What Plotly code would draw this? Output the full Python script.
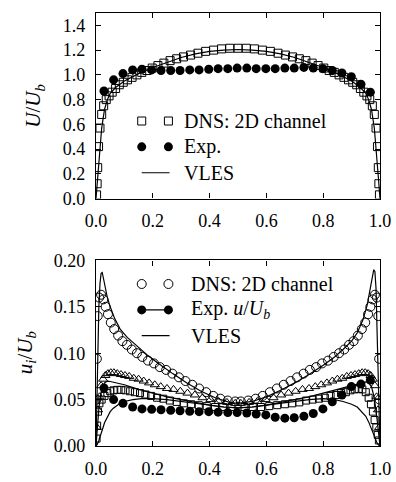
import plotly.graph_objects as go

# ---------------- top panel: mean velocity U/U_b ----------------
dns_x_top = [0.002, 0.004, 0.006, 0.009, 0.014, 0.02, 0.027, 0.036, 0.046, 0.057,
             0.069, 0.082, 0.096, 0.111, 0.127, 0.144, 0.161, 0.179, 0.198, 0.218,
             0.239, 0.261, 0.284, 0.308, 0.333, 0.359, 0.386, 0.414, 0.442, 0.471,
             0.5, 0.529, 0.558, 0.586, 0.614, 0.641, 0.667, 0.692, 0.716, 0.739,
             0.761, 0.782, 0.802, 0.821, 0.839, 0.856, 0.873, 0.889, 0.904, 0.918,
             0.931, 0.943, 0.954, 0.964, 0.973, 0.98, 0.986, 0.991, 0.994, 0.996, 0.998]
dns_u_top = [0.03, 0.12, 0.25, 0.42, 0.57, 0.68, 0.75, 0.80, 0.83, 0.86,
             0.89, 0.92, 0.94, 0.96, 0.98, 1.0, 1.02, 1.035, 1.055, 1.075,
             1.095, 1.115, 1.13, 1.145, 1.16, 1.175, 1.19, 1.2, 1.21, 1.215,
             1.215, 1.215, 1.21, 1.2, 1.19, 1.175, 1.16, 1.145, 1.13, 1.115,
             1.095, 1.075, 1.055, 1.035, 1.02, 1.0, 0.98, 0.96, 0.94, 0.92,
             0.89, 0.86, 0.83, 0.80, 0.75, 0.68, 0.57, 0.42, 0.25, 0.12, 0.03]

exp_x = [0.028, 0.062, 0.095, 0.129, 0.162, 0.196, 0.229, 0.263, 0.296, 0.330,
         0.363, 0.397, 0.430, 0.464, 0.497, 0.531, 0.564, 0.598, 0.631, 0.665,
         0.698, 0.732, 0.765, 0.799, 0.832, 0.866, 0.899, 0.933, 0.966]
exp_u_top = [0.87, 0.96, 1.01, 1.04, 1.045, 1.04, 1.035, 1.035, 1.035, 1.04,
             1.04, 1.045, 1.05, 1.05, 1.055, 1.055, 1.05, 1.05, 1.05, 1.055,
             1.055, 1.06, 1.055, 1.05, 1.035, 1.015, 0.985, 0.925, 0.86]

vles_x_top = [0, 0.005, 0.01, 0.015, 0.02, 0.03, 0.04, 0.05, 0.07, 0.1, 0.15, 0.2,
              0.25, 0.3, 0.35, 0.4, 0.45, 0.5, 0.55, 0.6, 0.65, 0.7, 0.75, 0.8,
              0.85, 0.9, 0.93, 0.95, 0.96, 0.97, 0.98, 0.985, 0.99, 0.995, 1.0]
vles_u_top = [0, 0.15, 0.3, 0.45, 0.57, 0.72, 0.8, 0.85, 0.9, 0.95, 1.01, 1.06,
              1.1, 1.14, 1.17, 1.19, 1.2, 1.205, 1.2, 1.19, 1.17, 1.14, 1.1, 1.06,
              1.01, 0.95, 0.9, 0.85, 0.8, 0.72, 0.57, 0.45, 0.3, 0.15, 0]

# ---------------- bottom panel: fluctuations u_i/U_b ----------------
dns_x_uu = [0.0015, 0.003, 0.006, 0.011, 0.018, 0.026, 0.034, 0.042, 0.052, 0.064,
            0.078, 0.093, 0.109, 0.126, 0.144, 0.163, 0.183, 0.204, 0.225, 0.247,
            0.269, 0.292, 0.315, 0.339, 0.363, 0.388, 0.413, 0.438, 0.464, 0.49,
            0.51, 0.536, 0.562, 0.587, 0.612, 0.637, 0.661, 0.685, 0.708, 0.731,
            0.753, 0.775, 0.796, 0.817, 0.837, 0.856, 0.874, 0.891, 0.907, 0.922,
            0.936, 0.948, 0.958, 0.966, 0.974, 0.982, 0.989, 0.994, 0.997, 0.9985]
dns_uu = [0.05, 0.094, 0.14, 0.16, 0.163, 0.158, 0.15, 0.142, 0.133, 0.126,
          0.119, 0.113, 0.109, 0.104, 0.1, 0.096, 0.092, 0.089, 0.085, 0.082,
          0.078, 0.074, 0.07, 0.066, 0.062, 0.058, 0.054, 0.051, 0.049, 0.048,
          0.048, 0.049, 0.051, 0.054, 0.058, 0.062, 0.066, 0.07, 0.074, 0.078,
          0.082, 0.085, 0.089, 0.092, 0.096, 0.1, 0.104, 0.109, 0.113, 0.119,
          0.126, 0.133, 0.142, 0.15, 0.158, 0.163, 0.16, 0.14, 0.094, 0.05]

dns_x_vv = [0.003, 0.007, 0.012, 0.018, 0.025, 0.033, 0.042, 0.052, 0.063, 0.075,
            0.088, 0.102, 0.117, 0.133, 0.15, 0.168, 0.187, 0.207, 0.228, 0.25,
            0.273, 0.297, 0.322, 0.348, 0.375, 0.403, 0.432, 0.461, 0.49,
            0.51, 0.539, 0.568, 0.597, 0.625, 0.652, 0.678, 0.703, 0.727, 0.75,
            0.772, 0.793, 0.813, 0.832, 0.85, 0.867, 0.883, 0.898, 0.912, 0.925,
            0.937, 0.948, 0.958, 0.967, 0.975, 0.982, 0.988, 0.993, 0.997]
dns_vv = [0.02, 0.039, 0.053, 0.065, 0.072, 0.076, 0.078, 0.079, 0.079, 0.078,
          0.077, 0.076, 0.075, 0.073, 0.072, 0.07, 0.068, 0.066, 0.064, 0.062,
          0.061, 0.059, 0.057, 0.055, 0.052, 0.05, 0.048, 0.047, 0.046,
          0.046, 0.047, 0.048, 0.05, 0.052, 0.055, 0.057, 0.059, 0.061, 0.062,
          0.064, 0.066, 0.068, 0.07, 0.072, 0.073, 0.075, 0.076, 0.077, 0.078,
          0.079, 0.079, 0.078, 0.076, 0.072, 0.065, 0.053, 0.039, 0.02]

dns_x_ww = [0.002, 0.004, 0.007, 0.012, 0.02, 0.03, 0.04, 0.05, 0.062, 0.075,
            0.089, 0.104, 0.12, 0.137, 0.155, 0.174, 0.194, 0.215, 0.237, 0.26,
            0.284, 0.309, 0.335, 0.362, 0.39, 0.419, 0.448, 0.477,
            0.523, 0.552, 0.581, 0.61, 0.638, 0.665, 0.691, 0.716, 0.74, 0.763,
            0.785, 0.806, 0.826, 0.845, 0.863, 0.88, 0.896, 0.911, 0.925, 0.938,
            0.95, 0.96, 0.968, 0.975, 0.981, 0.987, 0.992, 0.996]
dns_ww = [0.008, 0.022, 0.037, 0.046, 0.05, 0.054, 0.057, 0.059, 0.06, 0.0605,
          0.0605, 0.06, 0.059, 0.058, 0.057, 0.0555, 0.054, 0.052, 0.051, 0.049,
          0.0475, 0.046, 0.045, 0.044, 0.043, 0.042, 0.042, 0.042,
          0.042, 0.042, 0.042, 0.043, 0.044, 0.045, 0.046, 0.047, 0.049, 0.05,
          0.051, 0.052, 0.054, 0.055, 0.057, 0.058, 0.06, 0.061, 0.0615, 0.061,
          0.058, 0.052, 0.045, 0.037, 0.028, 0.02, 0.012, 0.006]

exp_uu = [0.0625, 0.05, 0.046, 0.042, 0.040, 0.0395, 0.039, 0.0385, 0.038, 0.0375,
          0.037, 0.037, 0.0365, 0.036, 0.036, 0.0355, 0.0345, 0.0335, 0.031, 0.030,
          0.0305, 0.032, 0.035, 0.040, 0.0477, 0.055, 0.064, 0.0667, 0.071]

vles_x_uu = [0, 0.003, 0.006, 0.01, 0.014, 0.018, 0.022, 0.027, 0.033, 0.04, 0.05,
             0.065, 0.085, 0.11, 0.14, 0.18, 0.22, 0.27, 0.32, 0.37, 0.42, 0.47, 0.5,
             0.55, 0.6, 0.65, 0.7, 0.75, 0.8, 0.84, 0.87, 0.9, 0.92, 0.94, 0.955,
             0.965, 0.972, 0.978, 0.982, 0.986, 0.99, 0.995, 1.0]
vles_uu = [0, 0.05, 0.1, 0.15, 0.175, 0.186, 0.187, 0.18, 0.17, 0.16, 0.15,
           0.138, 0.126, 0.117, 0.109, 0.098, 0.089, 0.078, 0.068, 0.059, 0.052, 0.047, 0.046,
           0.048, 0.053, 0.06, 0.068, 0.077, 0.087, 0.096, 0.104, 0.113, 0.122, 0.136, 0.152,
           0.168, 0.18, 0.19, 0.188, 0.17, 0.12, 0.05, 0]

vles_x_vv = [0, 0.005, 0.01, 0.015, 0.02, 0.03, 0.04, 0.05, 0.07, 0.1, 0.15, 0.2,
             0.25, 0.3, 0.35, 0.4, 0.45, 0.5, 0.55, 0.6, 0.65, 0.7, 0.75, 0.8, 0.85,
             0.9, 0.93, 0.95, 0.96, 0.97, 0.98, 0.985, 0.99, 0.995, 1.0]
vles_vv = [0, 0.022, 0.04, 0.053, 0.061, 0.068, 0.07, 0.0695, 0.068, 0.066, 0.061, 0.057,
           0.053, 0.05, 0.047, 0.044, 0.042, 0.041, 0.042, 0.044, 0.047, 0.05, 0.053, 0.057, 0.061,
           0.065, 0.068, 0.069, 0.068, 0.064, 0.052, 0.042, 0.028, 0.014, 0]

vles_x_ww = [0, 0.005, 0.01, 0.015, 0.02, 0.026, 0.03, 0.04, 0.05, 0.06, 0.08, 0.1,
             0.13, 0.16, 0.2, 0.25, 0.3, 0.35, 0.4, 0.45, 0.5, 0.55, 0.6, 0.65, 0.7,
             0.75, 0.8, 0.84, 0.87, 0.9, 0.92, 0.94, 0.95, 0.96, 0.97, 0.975, 0.98,
             0.985, 0.99, 0.995, 1.0]
vles_ww = [0, 0.002, 0.006, 0.01, 0.015, 0.021, 0.025, 0.032, 0.037, 0.0405, 0.045, 0.048,
           0.05, 0.051, 0.051, 0.05, 0.048, 0.046, 0.044, 0.042, 0.041, 0.042, 0.044, 0.046, 0.048,
           0.05, 0.051, 0.05, 0.048, 0.045, 0.042, 0.036, 0.032, 0.026, 0.018, 0.014, 0.01,
           0.006, 0.003, 0.001, 0]

x_ticks = [0.0, 0.2, 0.4, 0.6, 0.8, 1.0]
y_ticks_top = [0.0, 0.2, 0.4, 0.6, 0.8, 1.0, 1.2, 1.4]
y_ticks_bot = [0.00, 0.05, 0.10, 0.15, 0.20]

# ---------------- styling ----------------
FONT = "Liberation Serif, DejaVu Serif, serif"
BLACK = "black"
MS = 8

def open_marker(symbol, size=MS):
    return dict(symbol=symbol, size=size, color="rgba(0,0,0,0)",
                line=dict(color=BLACK, width=1))

fig = go.Figure()

# top panel traces
fig.add_trace(go.Scatter(x=dns_x_top, y=dns_u_top, mode="markers",
                         marker=open_marker("square"), xaxis="x", yaxis="y"))
fig.add_trace(go.Scatter(x=exp_x, y=exp_u_top, mode="markers",
                         marker=dict(symbol="circle", size=9, color=BLACK),
                         xaxis="x", yaxis="y"))
fig.add_trace(go.Scatter(x=vles_x_top, y=vles_u_top, mode="lines",
                         line=dict(color=BLACK, width=1.2), xaxis="x", yaxis="y"))

# bottom panel traces
fig.add_trace(go.Scatter(x=dns_x_vv, y=dns_vv, mode="markers",
                         marker=open_marker("triangle-up"), xaxis="x2", yaxis="y2"))
fig.add_trace(go.Scatter(x=dns_x_ww, y=dns_ww, mode="markers",
                         marker=open_marker("square", 7), xaxis="x2", yaxis="y2"))
fig.add_trace(go.Scatter(x=dns_x_uu, y=dns_uu, mode="markers",
                         marker=open_marker("circle", 9), xaxis="x2", yaxis="y2"))
fig.add_trace(go.Scatter(x=exp_x, y=exp_uu, mode="markers",
                         marker=dict(symbol="circle", size=9, color=BLACK),
                         xaxis="x2", yaxis="y2"))
for vx, vy in [(vles_x_uu, vles_uu), (vles_x_vv, vles_vv), (vles_x_ww, vles_ww)]:
    fig.add_trace(go.Scatter(x=vx, y=vy, mode="lines",
                             line=dict(color=BLACK, width=1.2),
                             xaxis="x2", yaxis="y2"))

# ---------------- hand-drawn legends ----------------
KEY_X = [0.161, 0.255]
TEXT_X_TOP = 0.302
TEXT_X_BOT = 0.328
LEG_Y_TOP = [0.627, 0.418, 0.209]
LEG_Y_BOT = [0.1746, 0.1467, 0.1189]

fig.add_trace(go.Scatter(x=KEY_X, y=[LEG_Y_TOP[0]] * 2, mode="markers",
                         marker=open_marker("square"), xaxis="x", yaxis="y"))
fig.add_trace(go.Scatter(x=KEY_X, y=[LEG_Y_TOP[1]] * 2, mode="markers",
                         marker=dict(symbol="circle", size=9, color=BLACK),
                         xaxis="x", yaxis="y"))
fig.add_trace(go.Scatter(x=[KEY_X[0], KEY_X[1] + 0.004], y=[LEG_Y_TOP[2]] * 2,
                         mode="lines", line=dict(color=BLACK, width=1.2),
                         xaxis="x", yaxis="y"))

fig.add_trace(go.Scatter(x=KEY_X, y=[LEG_Y_BOT[0]] * 2, mode="markers",
                         marker=open_marker("circle", 9), xaxis="x2", yaxis="y2"))
fig.add_trace(go.Scatter(x=KEY_X, y=[LEG_Y_BOT[1]] * 2, mode="lines+markers",
                         marker=dict(symbol="circle", size=9, color=BLACK),
                         line=dict(color=BLACK, width=1.2), xaxis="x2", yaxis="y2"))
fig.add_trace(go.Scatter(x=[KEY_X[0], KEY_X[1] + 0.004], y=[LEG_Y_BOT[2]] * 2,
                         mode="lines", line=dict(color=BLACK, width=1.2),
                         xaxis="x2", yaxis="y2"))

legend_font = dict(family=FONT, size=20, color=BLACK)
annotations = []
for txt, yy in zip(["DNS: 2D channel", "Exp.", "VLES"], LEG_Y_TOP):
    annotations.append(dict(x=TEXT_X_TOP, y=yy, xref="x", yref="y", text=txt,
                            showarrow=False, xanchor="left", yanchor="middle",
                            font=legend_font))
for txt, yy in zip(["DNS: 2D channel", "Exp. <i>u</i>/<i>U</i><sub><i>b</i></sub>", "VLES"],
                   LEG_Y_BOT):
    annotations.append(dict(x=TEXT_X_BOT, y=yy, xref="x2", yref="y2", text=txt,
                            showarrow=False, xanchor="left", yanchor="middle",
                            font=legend_font))

# axis titles
title_font = dict(family=FONT, size=21, color=BLACK)
annotations.append(dict(x=0, y=0.5 * (0.5714 + 1.0), xref="paper", yref="paper",
                        xshift=-62, text="<i>U</i>/<i>U</i><sub><i>b</i></sub>",
                        textangle=-90, showarrow=False, xanchor="center",
                        yanchor="middle", font=title_font))
annotations.append(dict(x=0, y=0.5 * 0.4286, xref="paper", yref="paper",
                        xshift=-70, text="<i>u<sub>i</sub></i>/<i>U</i><sub><i>b</i></sub>",
                        textangle=-90, showarrow=False, xanchor="center",
                        yanchor="middle", font=title_font))

axis_common = dict(showline=True, linecolor=BLACK, linewidth=1.3, mirror="ticks",
                   ticks="inside", ticklen=5, tickwidth=1, tickcolor=BLACK,
                   showgrid=False, zeroline=False,
                   tickfont=dict(family=FONT, size=18, color=BLACK))

fig.update_layout(
    width=396, height=482,
    margin=dict(l=96, r=16, t=3, b=31),
    paper_bgcolor="white", plot_bgcolor="white",
    showlegend=False,
    xaxis=dict(axis_common, domain=[0, 1], range=[0, 1], tickvals=x_ticks,
               tickformat=".1f", anchor="y", ticklabelstandoff=6),
    yaxis=dict(axis_common, domain=[0.5714, 1.0], range=[0, 1.5], tickvals=y_ticks_top,
               tickformat=".1f", anchor="x", ticklabelstandoff=6),
    xaxis2=dict(axis_common, domain=[0, 1], range=[0, 1], tickvals=x_ticks,
                tickformat=".1f", anchor="y2", ticklabelstandoff=6),
    yaxis2=dict(axis_common, domain=[0, 0.4286], range=[0, 0.2], tickvals=y_ticks_bot,
                tickformat=".2f", anchor="x2", ticklabelstandoff=6),
    annotations=annotations,
)

fig.write_html("out.html")
